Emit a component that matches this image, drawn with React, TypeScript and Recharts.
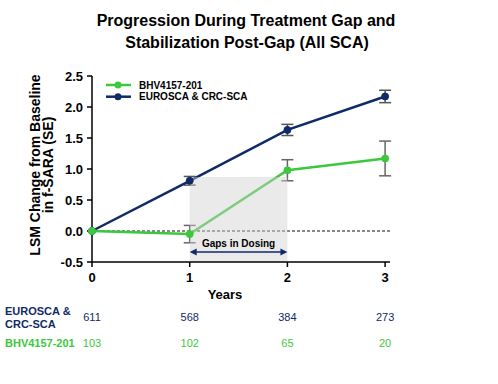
import { LineChart, Line, XAxis, YAxis, ErrorBar, ReferenceArea, ReferenceLine } from "recharts";

const years = [0, 1, 2, 3];
const bhvMean = [0, -0.05, 0.98, 1.17];
const bhvSE = [0, 0.14, 0.17, 0.28];
const euroMean = [0, 0.81, 1.63, 2.17];
const euroSE = [0, 0.07, 0.09, 0.1];
const euroN = [611, 568, 384, 273];
const bhvN = [103, 102, 65, 20];
const yTicks = [-0.5, 0, 0.5, 1, 1.5, 2, 2.5];

const NAVY = "#0f2a69";
const GREEN = "#3cc83c";
const FONT = "'Liberation Sans', Arial, sans-serif";

const data = years.map((yr, i) => ({
  year: yr,
  bhv: bhvMean[i],
  bhvErr: bhvSE[i] || undefined,
  euro: euroMean[i],
  euroErr: euroSE[i] || undefined,
}));

const legendItems = [
  { name: "BHV4157-201", color: GREEN },
  { name: "EUROSCA & CRC-SCA", color: NAVY },
];

const YearTick = (p: any) => {
  const { x, y, payload } = p;
  const i = years.indexOf(payload.value);
  return (
    <g fontFamily={FONT}>
      <text x={x} y={y + 11} textAnchor="middle" fontWeight="bold" fontSize={13} fill="#000">{payload.value}</text>
      <text x={x} y={y + 50} textAnchor="middle" fontSize={11} fill={NAVY}>{euroN[i]}</text>
      <text x={x} y={y + 76} textAnchor="middle" fontSize={11} fill={GREEN}>{bhvN[i]}</text>
    </g>
  );
};

const GapArrow = (p: any) => {
  const { x1, y1, x2 } = p;
  const cx = (x1 + x2) / 2;
  return (
    <g>
      <line x1={x1 + 4} y1={y1} x2={x2 - 4} y2={y1} stroke={NAVY} strokeWidth={1.5} />
      <polygon points={`${x1},${y1} ${x1 + 7},${y1 - 3.5} ${x1 + 7},${y1 + 3.5}`} fill={NAVY} />
      <polygon points={`${x2},${y1} ${x2 - 7},${y1 - 3.5} ${x2 - 7},${y1 + 3.5}`} fill={NAVY} />
      <text x={cx} y={y1 - 5} textAnchor="middle" fontFamily={FONT} fontWeight="bold" fontSize={10} fill="#000">
        Gaps in Dosing
      </text>
    </g>
  );
};

export default function App() {
  return (
    <div style={{ position: "absolute", left: 0, top: 0, width: 498, height: 384, background: "#fff" }}>
      <LineChart width={498} height={384} data={data} margin={{ top: 76, right: 108, bottom: 92, left: 32 }}>
        <XAxis
          dataKey="year"
          type="number"
          domain={[0, 3.05]}
          ticks={years}
          height={30}
          stroke="#000"
          strokeWidth={1.5}
          tickSize={5}
          tickMargin={4}
          tick={<YearTick />}
        />
        <YAxis
          type="number"
          domain={[-0.5, 2.5]}
          ticks={yTicks}
          width={60}
          stroke="#000"
          strokeWidth={1.5}
          tickSize={5}
          tickMargin={4}
          tickFormatter={(v: number) => v.toFixed(1)}
          tick={{ fill: "#000", fontSize: 13, fontWeight: "bold", fontFamily: FONT }}
        />
        <ReferenceLine y={0} stroke="#888" strokeWidth={2} strokeDasharray="3 2" />
        <Line dataKey="euro" stroke={NAVY} strokeWidth={2.5} dot={{ r: 3.5, fill: NAVY, stroke: NAVY, strokeWidth: 1 }} isAnimationActive={false}>
          <ErrorBar dataKey="euroErr" width={6} stroke="#555" strokeWidth={1.5} />
        </Line>
        <Line dataKey="bhv" stroke={GREEN} strokeWidth={2.5} dot={{ r: 3.5, fill: GREEN, stroke: GREEN, strokeWidth: 1 }} isAnimationActive={false}>
          <ErrorBar dataKey="bhvErr" width={6} stroke="#666" strokeWidth={1.5} />
        </Line>
        <ReferenceArea x1={1} x2={2} y1={-0.5} y2={0.87} fill="#d1d1d1" fillOpacity={0.45} stroke="none" zIndex={450} />
        <ReferenceLine segment={[{ x: 1, y: -0.34 }, { x: 2, y: -0.34 }]} shape={<GapArrow />} zIndex={460} />
      </LineChart>
      <svg width={498} height={384} style={{ position: "absolute", left: 0, top: 0, pointerEvents: "none" }} fontFamily={FONT}>
        <text x={246} y={26} textAnchor="middle" fontWeight="bold" fontSize={16}>Progression During Treatment Gap and</text>
        <text x={247} y={48} textAnchor="middle" fontWeight="bold" fontSize={16}>Stabilization Post-Gap (All SCA)</text>
        <text transform="translate(40,165) rotate(-90)" textAnchor="middle" fontWeight="bold" fontSize={14}>LSM Change from Baseline</text>
        <text transform="translate(53,165) rotate(-90)" textAnchor="middle" fontWeight="bold" fontSize={14}>in f-SARA (SE)</text>
        <text x={225} y={299} textAnchor="middle" fontWeight="bold" fontSize={13}>Years</text>
        <text x={5} y={315} fontWeight="bold" fontSize={11} fill={NAVY}>EUROSCA &amp;</text>
        <text x={5} y={327.5} fontWeight="bold" fontSize={11} fill={NAVY}>CRC-SCA</text>
        <text x={5} y={346.5} fontWeight="bold" fontSize={11} fill={GREEN}>BHV4157-201</text>
        {legendItems.map((it, i) => (
          <g key={it.name}>
            <line x1={106} x2={131} y1={85 + i * 11.7} y2={85 + i * 11.7} stroke={it.color} strokeWidth={2.5} />
            <circle cx={118} cy={85 + i * 11.7} r={3.5} fill={it.color} />
            <text x={139} y={88.5 + i * 11.7} fontWeight="bold" fontSize={10} fill="#000">{it.name}</text>
          </g>
        ))}
      </svg>
    </div>
  );
}
